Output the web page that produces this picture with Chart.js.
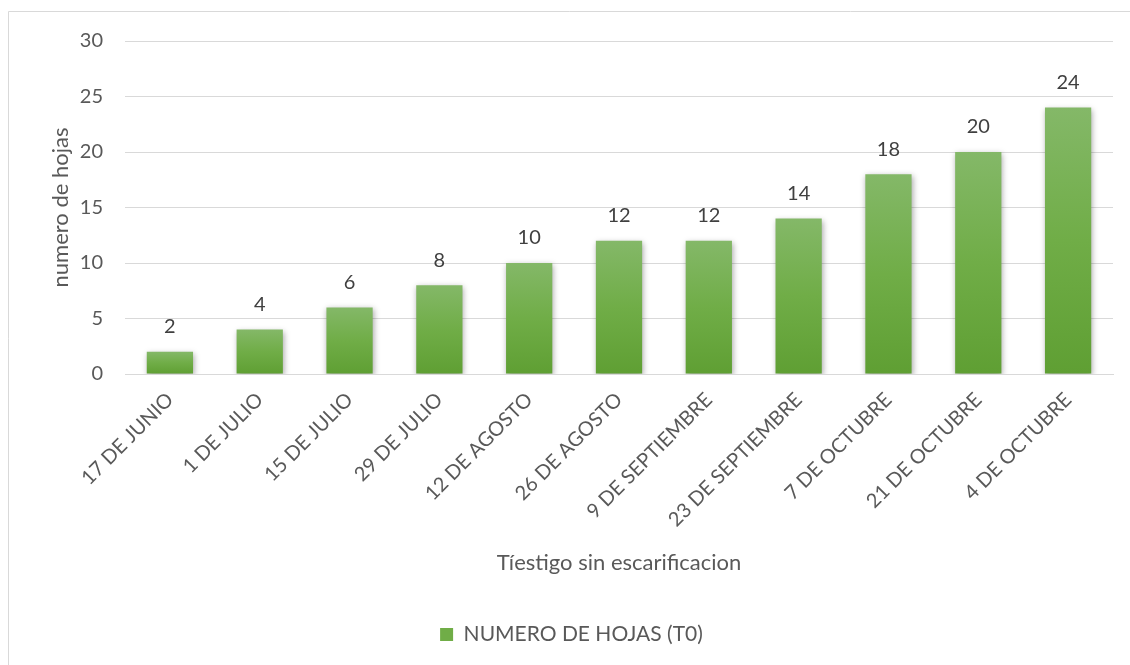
<!DOCTYPE html>
<html>
<head>
<meta charset="utf-8">
<script src="https://cdn.jsdelivr.net/npm/chart.js@4"></script>
<style>
  html, body { margin: 0; padding: 0; background: #ffffff; }
  #wrap { position: relative; width: 1130px; height: 665px; }
</style>
</head>
<body>
<div id="wrap"><canvas id="c" width="1130" height="665"></canvas></div>
<script>
const categories = ["17 DE JUNIO", "1 DE JULIO", "15 DE JULIO", "29 DE JULIO", "12 DE AGOSTO", "26 DE AGOSTO", "9 DE SEPTIEMBRE", "23 DE SEPTIEMBRE", "7 DE OCTUBRE", "21 DE OCTUBRE", "4 DE OCTUBRE"];
const hojas = [2, 4, 6, 8, 10, 12, 12, 14, 18, 20, 24];
const seriesName = "NUMERO DE HOJAS (T0)";
const xTitle = "Tíestigo sin escarificacion";
const yTitle = "numero de hojas";
const yTicks = [0, 5, 10, 15, 20, 25, 30];

const FONT = "Lato, 'Open Sans', sans-serif";
const TXT = "#595959";

function barFill(ctx) {
  const chart = ctx.chart;
  const area = chart.chartArea;
  if (!area || ctx.type !== 'data') return '#70ad47';
  const y = chart.scales.y;
  const top = y.getPixelForValue(ctx.raw);
  const bot = y.getPixelForValue(0);
  const g = chart.ctx.createLinearGradient(0, top, 0, bot);
  g.addColorStop(0, '#84b868');
  g.addColorStop(0.5, '#70ad47');
  g.addColorStop(1, '#5f9f33');
  return g;
}

const frame = {
  id: 'frame',
  beforeDraw(chart) {
    const c = chart.ctx;
    c.save();
    c.fillStyle = '#ffffff';
    c.fillRect(0, 0, chart.width, chart.height);
    c.strokeStyle = '#d9d9d9';
    c.lineWidth = 1;
    c.beginPath();
    c.moveTo(8.5, chart.height + 2);
    c.lineTo(8.5, 11.5);
    c.lineTo(chart.width + 2, 11.5);
    c.stroke();
    c.restore();
  }
};

const shadow = {
  id: 'shadow',
  beforeDatasetsDraw(chart) {
    const c = chart.ctx;
    c.save();
    c.shadowColor = 'rgba(0,0,0,0.35)';
    c.shadowBlur = 6;
    c.shadowOffsetX = 1;
    c.shadowOffsetY = 2;
  },
  afterDatasetsDraw(chart) {
    chart.ctx.restore();
  }
};

const valueLabels = {
  id: 'valueLabels',
  afterDatasetsDraw(chart) {
    const c = chart.ctx;
    const meta = chart.getDatasetMeta(0);
    c.save();
    c.font = "20px " + FONT;
    c.fillStyle = '#404040';
    c.textAlign = 'center';
    c.textBaseline = 'middle';
    meta.data.forEach((bar, i) => {
      c.fillText(String(chart.data.datasets[0].data[i]), bar.x, bar.y - 25);
    });
    c.restore();
  }
};

new Chart(document.getElementById('c'), {
  type: 'bar',
  data: {
    labels: categories,
    datasets: [{
      label: seriesName,
      data: hojas,
      backgroundColor: barFill,
      borderWidth: 0,
      categoryPercentage: 1,
      barPercentage: 0.515
    }]
  },
  options: {
    responsive: false,
    animation: false,
    devicePixelRatio: 1,
    layout: { padding: { left: 30, right: 17, top: 41, bottom: 10 } },
    plugins: {
      legend: {
        position: 'bottom',
        labels: {
          color: TXT,
          font: { family: FONT, size: 21 },
          boxWidth: 13,
          boxHeight: 13,
          padding: 10,
          generateLabels(chart) {
            return [{ text: seriesName, fillStyle: '#70ad47', strokeStyle: '#70ad47', lineWidth: 0, fontColor: TXT, datasetIndex: 0 }];
          }
        }
      },
      tooltip: { enabled: false }
    },
    scales: {
      x: {
        afterFit(scale) { scale.height = 240; },
        grid: { display: false, drawTicks: false },
        border: { display: true, color: '#d9d9d9' },
        ticks: {
          color: TXT,
          font: { family: FONT, size: 20 },
          minRotation: 45,
          maxRotation: 45,
          autoSkip: false,
          padding: 14
        },
        title: {
          display: true,
          text: xTitle,
          color: TXT,
          font: { family: FONT, size: 22 },
          padding: { top: 10, bottom: 38 }
        }
      },
      y: {
        min: 0,
        max: 30,
        afterBuildTicks(scale) { scale.ticks = yTicks.map(v => ({ value: v })); },
        afterFit(scale) { scale.width = 95; },
        grid: { color: '#d9d9d9', drawTicks: false, lineWidth: 1 },
        border: { display: false },
        ticks: {
          color: TXT,
          font: { family: FONT, size: 20 },
          padding: 22
        },
        title: {
          display: true,
          text: yTitle,
          color: TXT,
          font: { family: FONT, size: 22 },
          padding: { top: 18, bottom: 0 }
        }
      }
    }
  },
  plugins: [frame, shadow, valueLabels]
});
</script>
</body>
</html>
